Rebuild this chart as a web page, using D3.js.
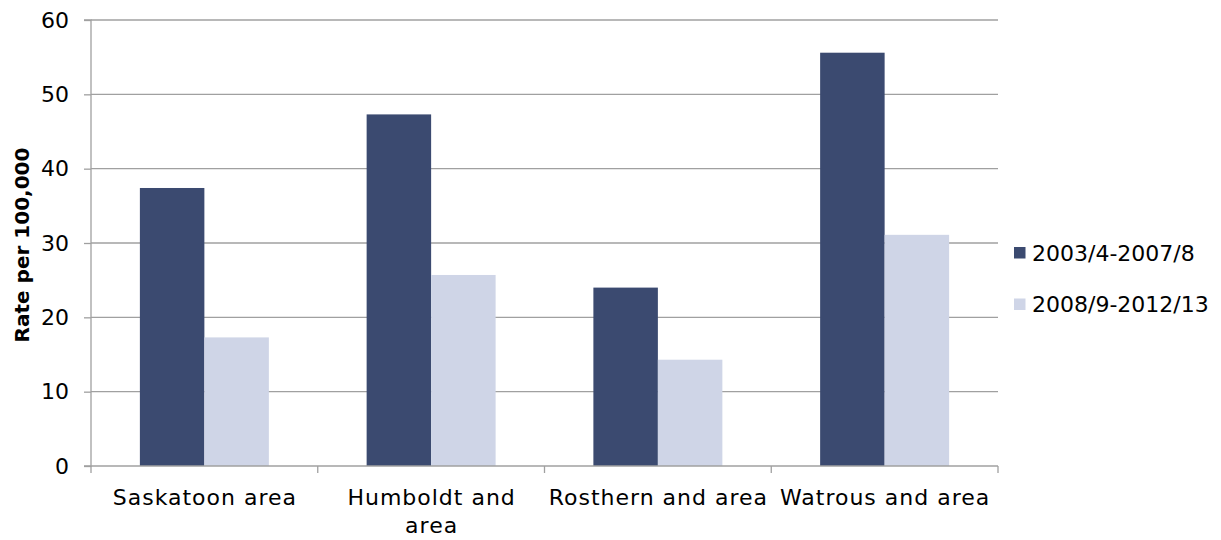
<!DOCTYPE html>
<html>
<head>
<meta charset="utf-8">
<script src="https://cdn.jsdelivr.net/npm/d3@7"></script>
<style>
  html, body { margin: 0; padding: 0; background: #fff; }
  svg text { font-family: "DejaVu Sans", sans-serif; fill: #000; }
</style>
</head>
<body>
<svg id="chart" width="1221" height="540"></svg>
<script>
const categories = ["Saskatoon area", "Humboldt and area", "Rosthern and area", "Watrous and area"];
const categoryLines = [["Saskatoon area"], ["Humboldt and", "area"], ["Rosthern and area"], ["Watrous and area"]];
const seriesNames = ["2003/4-2007/8", "2008/9-2012/13"];
const series1 = [37.4, 47.3, 24.0, 55.6];
const series2 = [17.3, 25.7, 14.3, 31.1];
const yTicks = [0, 10, 20, 30, 40, 50, 60];
const colors = ["#3b4a70", "#cfd5e7"];
const yTitle = "Rate per 100,000";

(function () {
const svg = d3.select("#chart");
const mL = 91, mR = 998, mT = 20, mB = 466;
const gridColor = "#a0a0a0";

const x = d3.scaleBand().domain(categories).range([mL, mR]).paddingInner(0).paddingOuter(0);
const x1 = d3.scaleBand().domain(seriesNames).range([0, x.bandwidth()]).paddingOuter(0.758).paddingInner(0);
const y = d3.scaleLinear().domain([0, 60]).range([mB, mT]);

// gridlines
svg.append("g").selectAll("line").data(yTicks.filter(d => d > 0)).join("line")
  .attr("x1", mL).attr("x2", mR)
  .attr("y1", d => y(d)).attr("y2", d => y(d))
  .attr("stroke", gridColor).attr("stroke-width", 1.3);

// bars
const data = categories.map((c, i) => ({ c, vals: [series1[i], series2[i]] }));
const groups = svg.append("g").selectAll("g").data(data).join("g")
  .attr("transform", d => `translate(${x(d.c)},0)`);
groups.selectAll("rect").data(d => d.vals.map((v, j) => ({ v, s: seriesNames[j], j }))).join("rect")
  .attr("x", d => x1(d.s)).attr("width", x1.bandwidth())
  .attr("y", d => y(d.v)).attr("height", d => y(0) - y(d.v))
  .attr("fill", d => colors[d.j]);

// y axis
const yAxis = d3.axisLeft(y).tickValues(yTicks).tickSize(7).tickPadding(15);
const gy = svg.append("g").attr("transform", `translate(${mL},0)`).call(yAxis);
gy.select(".domain").attr("stroke", gridColor).attr("stroke-width", 1.3).attr("d", `M-7,${mT}H0V${mB}H-7`);
gy.selectAll(".tick line").attr("stroke", gridColor).attr("stroke-width", 1.3);
gy.selectAll(".tick text").style("font-size", "22px").style("font-family", "DejaVu Sans, sans-serif").attr("fill", "#000");

// x axis
const xEdges = categories.map(c => x(c)).concat([mR]);
const gx = svg.append("g");
gx.append("line").attr("x1", mL).attr("x2", mR).attr("y1", mB).attr("y2", mB)
  .attr("stroke", gridColor).attr("stroke-width", 1.3);
gx.selectAll("line.t").data(xEdges).join("line").attr("class", "t")
  .attr("x1", d => d).attr("x2", d => d).attr("y1", mB).attr("y2", mB + 7)
  .attr("stroke", gridColor).attr("stroke-width", 1.3);
gx.selectAll("text").data(categories).join("text")
  .attr("text-anchor", "middle")
  .style("font-size", "22px").style("letter-spacing", "1px")
  .each(function(d, i) {
    const t = d3.select(this);
    categoryLines[i].forEach((ln, k) => {
      t.append("tspan").attr("x", x(d) + x.bandwidth() / 2 + 0.5).attr("y", 505 + k * 28).text(ln);
    });
  });

// y title
svg.append("text")
  .attr("transform", `translate(29,${(mT + mB) / 2 + 2}) rotate(-90)`)
  .attr("text-anchor", "middle")
  .style("font-size", "20px").style("font-weight", "bold")
  .text(yTitle);

// legend
const lg = svg.append("g").selectAll("g").data(seriesNames).join("g")
  .attr("transform", (d, i) => `translate(1014,${247 + i * 51.5})`);
lg.append("rect").attr("width", 11.5).attr("height", 11.5).attr("fill", (d, i) => colors[i]);
lg.append("text").attr("x", 18).attr("y", 13.5).style("font-size", "22px").text(d => d);
})();
</script>
</body>
</html>
